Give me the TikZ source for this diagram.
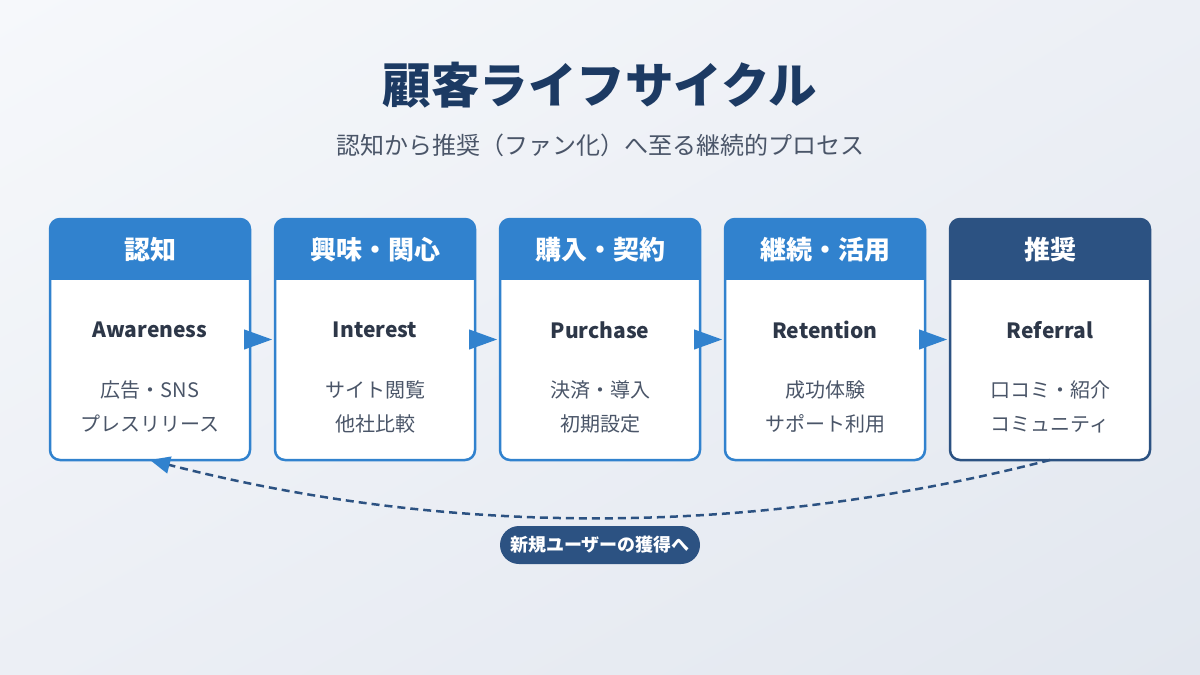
\documentclass[tikz,border=0pt]{standalone}
\usepackage{fontspec}
\setmainfont{Noto Sans CJK JP}
\usetikzlibrary{arrows.meta,positioning,shadings}
\definecolor{lcBlue}  {HTML}{3182CE}
\definecolor{lcNavy}  {HTML}{2C5282}
\definecolor{lcTitle} {HTML}{1C3A63}
\definecolor{lcText}  {HTML}{2D3748}
\definecolor{lcGrey}  {HTML}{4A5568}
\definecolor{lcBgA}   {HTML}{F6F8FB}
\definecolor{lcBgM}   {HTML}{ECEFF5}
\definecolor{lcBgB}   {HTML}{E2E7EF}

\begin{document}
\begin{tikzpicture}[x=1pt,y=-1pt,
    every node/.style={font=\fontsize{18}{22}\selectfont},
    stage/.style={rectangle,rounded corners=10pt,draw=#1,line width=2.5pt,
                  fill=white,minimum width=200pt,minimum height=241pt,
                  inner sep=0pt,outer sep=0pt,
                  path picture={\fill[#1,sharp corners] (path picture bounding box.north west)
                    rectangle ([yshift=-61pt]path picture bounding box.north east);}},
    stage/.default=lcBlue,
    head/.style={text=white,font=\fontsize{26}{30}\selectfont\bfseries},
    ename/.style={text=lcText,font=\fontsize{21}{25}\selectfont\bfseries},
    detail/.style={text=lcGrey,align=center,font=\fontsize{20}{34}\selectfont},
    flow/.style={-{Triangle[length=28pt,width=20pt]},lcBlue,line width=1pt,
                 shorten >=3pt},
    back/.style={lcNavy,line width=2.5pt,dash pattern=on 8pt off 5pt,
                 -{Triangle[length=20pt,width=17pt,color=lcBlue]}},
    pill/.style={fill=lcNavy,text=white,rounded corners=19pt,
                 minimum width=200pt,minimum height=38pt,
                 font=\fontsize{18}{22}\selectfont\bfseries}
  ]
  \useasboundingbox (0,0) rectangle (1200,675);
  \shade[upper left=lcBgA,upper right=lcBgM,lower left=lcBgM,lower right=lcBgB]
    (0,0) rectangle (1200,675);
  % Title
  \node[text=lcTitle,font=\fontsize{48.5}{54}\selectfont\bfseries] (title) at (600,85)
    {顧客ライフサイクル};
  \node[text=lcGrey,font=\fontsize{24}{28}\selectfont] (subtitle) at (600,145)
    {認知から推奨（ファン化）へ至る継続的プロセス};
  % Stages
  \node[stage] (aware) at (150,339.5) {};
  \node[stage,right=25pt of aware] (interest) {};
  \node[stage,right=25pt of interest] (purchase) {};
  \node[stage,right=25pt of purchase] (retention) {};
  \node[stage=lcNavy,right=25pt of retention] (referral) {};
  % Headers
  \node[head] (awareH) at ([yshift=-30.5pt]aware.north) {認知};
  \node[head] (interestH) at ([yshift=-30.5pt]interest.north) {興味・関心};
  \node[head] (purchaseH) at ([yshift=-30.5pt]purchase.north) {購入・契約};
  \node[head] (retentionH) at ([yshift=-30.5pt]retention.north) {継続・活用};
  \node[head] (referralH) at ([yshift=-30.5pt]referral.north) {推奨};
  % English names
  \node[ename] (awareE) at ([yshift=-111pt]aware.north) {Awareness};
  \node[ename] (interestE) at ([yshift=-111pt]interest.north) {Interest};
  \node[ename] (purchaseE) at ([yshift=-111pt]purchase.north) {Purchase};
  \node[ename] (retentionE) at ([yshift=-111pt]retention.north) {Retention};
  \node[ename] (referralE) at ([yshift=-111pt]referral.north) {Referral};
  % Details
  \node[detail] (awareD) at ([yshift=-188pt]aware.north) {広告・SNS\\プレスリリース};
  \node[detail] (interestD) at ([yshift=-188pt]interest.north) {サイト閲覧\\他社比較};
  \node[detail] (purchaseD) at ([yshift=-188pt]purchase.north) {決済・導入\\初期設定};
  \node[detail] (retentionD) at ([yshift=-188pt]retention.north) {成功体験\\サポート利用};
  \node[detail] (referralD) at ([yshift=-188pt]referral.north) {口コミ・紹介\\コミュニティ};
  % Arrows
  \draw[flow] ([xshift=-6pt]aware.east) -- (interest.west);
  \draw[flow] ([xshift=-6pt]interest.east) -- (purchase.west);
  \draw[flow] ([xshift=-6pt]purchase.east) -- (retention.west);
  \draw[flow] ([xshift=-6pt]retention.east) -- (referral.west);
  % Loop back
  \draw[back] (referral.south) .. controls (750,537) and (450,537) .. (aware.south);
  \node[pill] (acquire) at (600,545) {新規ユーザーの獲得へ};
\end{tikzpicture}
\end{document}
